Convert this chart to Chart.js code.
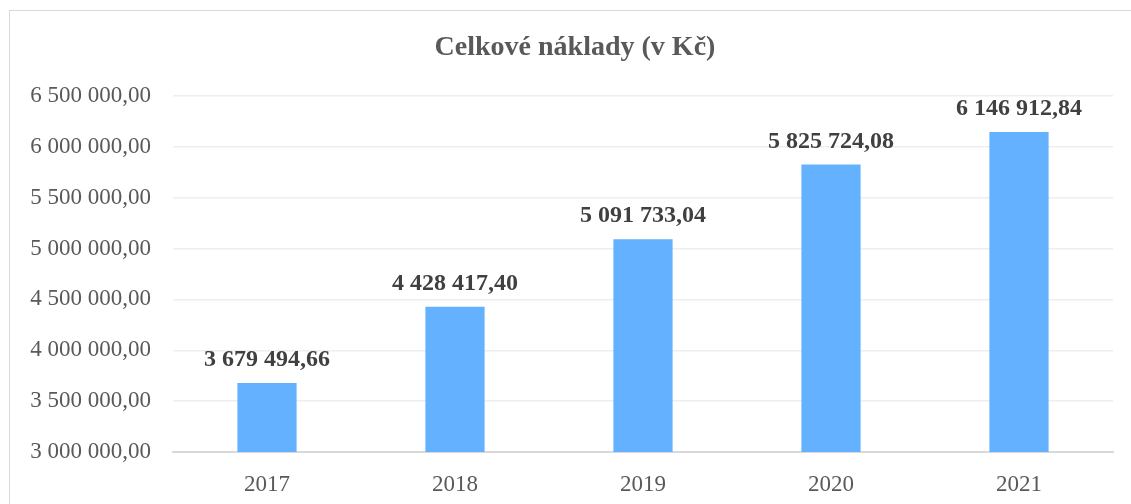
<!DOCTYPE html>
<html>
<head>
<meta charset="utf-8">
<script src="https://cdn.jsdelivr.net/npm/chart.js@4.4.1/dist/chart.umd.min.js"></script>
<style>
  html, body { margin: 0; padding: 0; background: #fff; overflow: hidden; }
  #frame {
    position: absolute; left: 9px; top: 10px;
    width: 1200px; height: 600px;
    border: 1px solid #d9d9d9;
  }
  #wrap { position: absolute; left: 0; top: 0; width: 1131px; height: 504px; }
</style>
</head>
<body>
<div id="frame"></div>
<div id="wrap"><canvas id="costChart"></canvas></div>
<script>
const years = ["2017", "2018", "2019", "2020", "2021"];
const totalCosts = [3679494.66, 4428417.40, 5091733.04, 5825724.08, 6146912.84];
const yMin = 3000000;
const yMax = 6500000;
const yStep = 500000;
const chartTitle = "Celkové náklady (v Kč)";

const serif = "'Liberation Serif', 'Times New Roman', serif";

/* ===== FORMAT: 6 500 000,00 ===== */
function formatCz(v) {
  const parts = Number(v).toFixed(2).split(".");
  const whole = parts[0].replace(/\B(?=(\d{3})+(?!\d))/g, " ");
  return whole + "," + parts[1];
}

/* ===== TITLE (centred on the whole frame, not the canvas) ===== */
const frameTitle = {
  id: "frameTitle",
  afterDraw(chart) {
    const ctx = chart.ctx;
    ctx.save();
    ctx.font = "bold 28px " + serif;
    ctx.fillStyle = "#595959";
    ctx.textAlign = "center";
    ctx.textBaseline = "middle";
    ctx.fillText(chartTitle, 575, 48);
    ctx.restore();
  }
};

/* ===== VALUE LABELS ABOVE BARS ===== */
const valueLabels = {
  id: "valueLabels",
  afterDatasetsDraw(chart) {
    const ctx = chart.ctx;
    const meta = chart.getDatasetMeta(0);
    ctx.save();
    ctx.font = "bold 24px " + serif;
    ctx.fillStyle = "#404040";
    ctx.textAlign = "center";
    ctx.textBaseline = "middle";
    meta.data.forEach((bar, i) => {
      ctx.fillText(formatCz(chart.data.datasets[0].data[i]), bar.x, bar.y - 23);
    });
    ctx.restore();
  }
};

new Chart(document.getElementById("costChart"), {
  type: "bar",
  data: {
    labels: years,
    datasets: [{
      data: totalCosts,
      backgroundColor: "#64b2ff",
      barPercentage: 0.315,
      categoryPercentage: 1,
    }],
  },
  options: {
    responsive: true,
    maintainAspectRatio: false,
    animation: false,
    layout: { padding: { left: 0, right: 18, top: 96, bottom: 7 } },
    plugins: {
      legend: { display: false },
      tooltip: { enabled: false },
      title: { display: false },
    },
    scales: {
      x: {
        afterFit(scale) { scale.height = 45; },
        grid: { display: false },
        border: { color: "#d9d9d9", width: 2 },
        ticks: {
          color: "#595959",
          font: { family: serif, size: 23 },
          padding: 11,
        },
      },
      y: {
        min: yMin,
        max: yMax,
        afterFit(scale) { scale.width = 173; },
        border: { display: false },
        grid: { color: "#eeeeee", lineWidth: 1.5, drawTicks: false },
        ticks: {
          stepSize: yStep,
          color: "#595959",
          font: { family: serif, size: 23 },
          padding: 22,
          callback: v => formatCz(v),
        },
      },
    },
  },
  plugins: [frameTitle, valueLabels],
});
</script>
</body>
</html>
